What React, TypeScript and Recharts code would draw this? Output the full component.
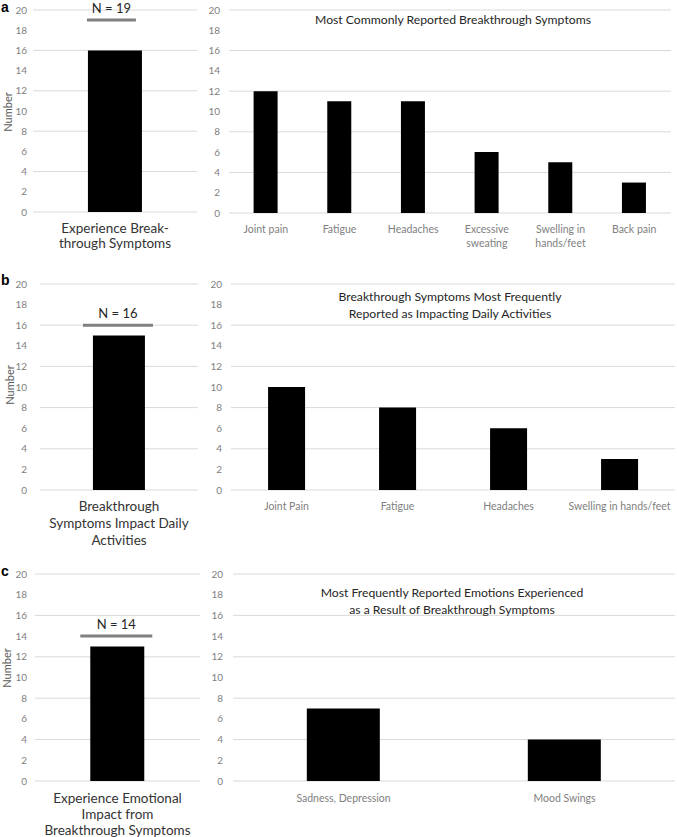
import React from "react"
import { BarChart, Bar, XAxis, YAxis, CartesianGrid } from "recharts"

// tick labels shared by every panel
const yTicks = [0, 2, 4, 6, 8, 10, 12, 14, 16, 18, 20]

// left column: overall counts and group size
const overviewLabels = [
  "Experience Break-\nthrough Symptoms",
  "Breakthrough\nSymptoms Impact Daily\nActivities",
  "Experience Emotional\nImpact from\nBreakthrough Symptoms",
]
const overviewValues = [16, 15, 13]
const overviewN = [19, 16, 14]

// a: most common symptoms
const symptomCats = ["Joint pain", "Fatigue", "Headaches", "Excessive\nsweating", "Swelling in\nhands/feet", "Back pain"]
const symptomValues = [12, 11, 11, 6, 5, 3]

// b: symptoms impacting daily activities
const impactCats = ["Joint Pain", "Fatigue", "Headaches", "Swelling in hands/feet"]
const impactValues = [10, 8, 6, 3]

// c: emotions
const emotionCats = ["Sadness, Depression", "Mood Swings"]
const emotionValues = [7, 4]

const FONT = "Lato, 'Liberation Sans', sans-serif"
const GRID = "#d9d9d9"
const TICK = "#808080"

function CatTick(props: any) {
  const { x, y, payload, fontSize, color, first, lh } = props
  const lines = String(payload.value).split("\n")
  return (
    <text x={x} y={y} textAnchor="middle" fill={color} fontSize={fontSize} fontFamily={FONT}>
      {lines.map((l: string, i: number) => (
        <tspan key={i} x={x} dy={i === 0 ? first : lh}>{l}</tspan>
      ))}
    </text>
  )
}

function makeMarker(padL: number, padR: number) {
  return (props: any) => {
    const { x, y, width, payload } = props
    const x1 = x - padL
    const x2 = x + width + padR
    return (
      <g>
        <line x1={x1} x2={x2} y1={y} y2={y} stroke="#808080" strokeWidth={3} />
        <text x={(x1 + x2) / 2} y={y - 7} textAnchor="middle" fontSize={13} fill="#262626" fontFamily={FONT}>
          N = {payload.n}
        </text>
      </g>
    )
  }
}

function OverviewChart({ idx, width, height, axisW, xH, first, lh, padL, padR }: any) {
  const data = [{ name: overviewLabels[idx], value: overviewValues[idx], n: overviewN[idx] }]
  return (
    <BarChart width={width} height={height} data={data} margin={{ top: 10, right: 0, bottom: 0, left: 0 }} barCategoryGap="33.5%">
      <CartesianGrid vertical={false} stroke={GRID} />
      <XAxis
        dataKey="name"
        height={xH}
        axisLine={false}
        tickLine={false}
        tickSize={0}
        interval={0}
        tick={(p: any) => <CatTick {...p} fontSize={13.5} color="#333" first={first} lh={lh} />}
      />
      <XAxis xAxisId="n" dataKey="name" hide />
      <YAxis
        width={axisW}
        domain={[0, 20]}
        ticks={yTicks}
        axisLine={false}
        tickLine={false}
        tickSize={0}
        tickMargin={axisW - 27}
        tick={{ fontSize: 10, fill: TICK, fontFamily: FONT }}
      />
      <Bar dataKey="value" fill="#000" isAnimationActive={false} />
      <Bar dataKey="n" xAxisId="n" shape={makeMarker(padL, padR)} isAnimationActive={false} />
    </BarChart>
  )
}

function DetailChart({ cats, values, width, height, axisW, xH, gap, first, lh }: any) {
  const data = cats.map((c: string, i: number) => ({ name: c, value: values[i] }))
  return (
    <BarChart width={width} height={height} data={data} margin={{ top: 10, right: 0, bottom: 0, left: 0 }} barCategoryGap="33.4%">
      <CartesianGrid vertical={false} stroke={GRID} />
      <XAxis
        dataKey="name"
        height={xH}
        axisLine={false}
        tickLine={false}
        tickSize={0}
        interval={0}
        tick={(p: any) => <CatTick {...p} fontSize={10.5} color={TICK} first={first} lh={lh} />}
      />
      <YAxis
        width={axisW}
        domain={[0, 20]}
        ticks={yTicks}
        axisLine={false}
        tickLine={false}
        tickSize={0}
        tickMargin={gap}
        tick={{ fontSize: 10, fill: TICK, fontFamily: FONT }}
      />
      <Bar dataKey="value" fill="#000" isAnimationActive={false} />
    </BarChart>
  )
}

const abs = (left: number, top: number): React.CSSProperties => ({ position: "absolute", left, top })

function Title({ lines, cx, top }: { lines: string[]; cx: number; top: number }) {
  return (
    <div style={{ position: "absolute", left: cx - 200, top, width: 400, textAlign: "center", fontSize: 12.2, lineHeight: "17px", color: "#262626" }}>
      {lines.map((l, i) => <div key={i}>{l}</div>)}
    </div>
  )
}

function NumberLabel({ cx, cy }: { cx: number; cy: number }) {
  return (
    <div style={{ position: "absolute", left: cx - 30, top: cy - 7, width: 60, height: 14, lineHeight: "14px", textAlign: "center", fontSize: 11, color: "#595959", transform: "rotate(-90deg)" }}>
      Number
    </div>
  )
}

function Letter({ ch, top }: { ch: string; top: number }) {
  return (
    <div style={{ position: "absolute", left: 1, top, fontSize: 14, fontWeight: 700, fontFamily: "'Liberation Sans', Arial, sans-serif", color: "#000", lineHeight: "14px" }}>
      {ch}
    </div>
  )
}

export default function App() {
  return (
    <div style={{ position: "absolute", left: 0, top: 0, width: 677, height: 837, background: "#fff", fontFamily: FONT, overflow: "hidden" }}>
      {/* panel a */}
      <div style={abs(0, 0)}>
        <OverviewChart idx={0} width={197} height={250} axisW={33} xH={38} first={19} lh={15} padL={1} padR={-6} />
      </div>
      <div style={abs(195, 0)}>
        <DetailChart cats={symptomCats} values={symptomValues} width={476} height={250} axisW={34} xH={37} gap={9} first={18} lh={14} />
      </div>
      <Title lines={["Most Commonly Reported Breakthrough Symptoms"]} cx={453} top={11} />

      {/* panel b */}
      <div style={abs(0, 274)}>
        <OverviewChart idx={1} width={198} height={276} axisW={40} xH={60} first={18.5} lh={17} padL={10} padR={8} />
      </div>
      <div style={abs(195, 274)}>
        <DetailChart cats={impactCats} values={impactValues} width={480} height={246} axisW={36} xH={30} gap={9} first={18} lh={14} />
      </div>
      <Title lines={["Breakthrough Symptoms Most Frequently", "Reported as Impacting Daily Activities"]} cx={450} top={288} />

      {/* panel c */}
      <div style={abs(0, 564)}>
        <OverviewChart idx={2} width={200} height={273} axisW={35} xH={56} first={20} lh={16} padL={10} padR={8} />
      </div>
      <div style={abs(195, 564)}>
        <DetailChart cats={emotionCats} values={emotionValues} width={480} height={247} axisW={38} xH={30} gap={10} first={19} lh={14} />
      </div>
      <Title lines={["Most Frequently Reported Emotions Experienced", "as a Result of Breakthrough Symptoms"]} cx={452} top={584} />

      <NumberLabel cx={8} cy={112} />
      <NumberLabel cx={10} cy={385} />
      <NumberLabel cx={7} cy={668} />
      <Letter ch="a" top={0} />
      <Letter ch="b" top={273} />
      <Letter ch="c" top={564} />
    </div>
  )
}
